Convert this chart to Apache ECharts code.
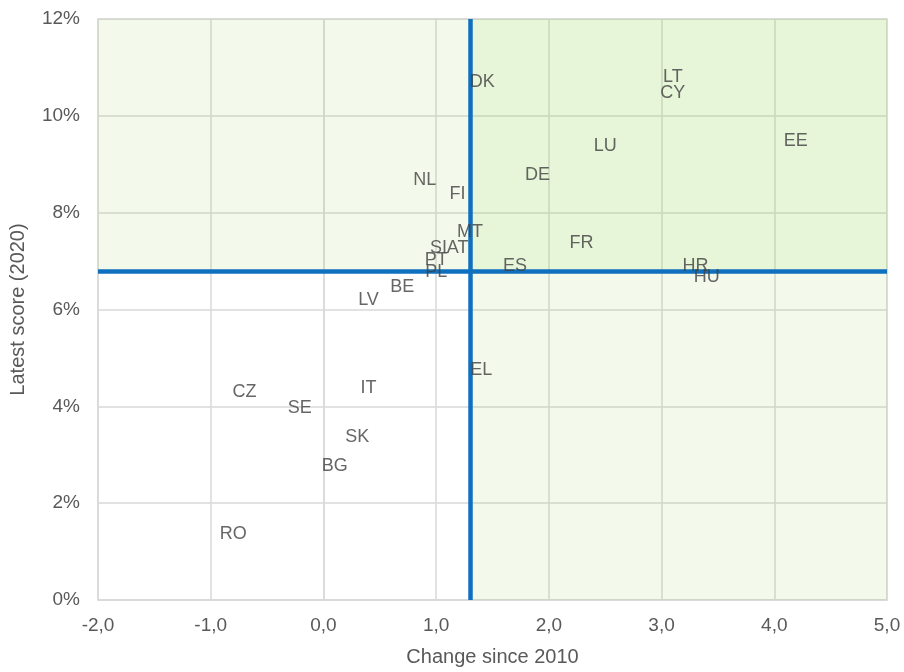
<!DOCTYPE html>
<html>
<head>
<meta charset="utf-8">
<script src="https://cdn.jsdelivr.net/npm/echarts@6/dist/echarts.min.js"></script>
<style>html,body{margin:0;padding:0;background:#fff;}#c{width:904px;height:672px;}</style>
</head>
<body>
<div id="c"></div>
<script>
var countries = ['DK','LT','CY','EE','LU','DE','NL','FI','MT','SI','AT','PT','PL','ES','FR','HR','HU','BE','LV','EL','IT','CZ','SE','SK','BG','RO'];
var changeSince2010 = [1.41,3.10,3.10,4.19,2.50,1.90,0.90,1.19,1.30,1.02,1.19,1.00,1.00,1.70,2.29,3.30,3.40,0.70,0.40,1.40,0.40,-0.70,-0.21,0.30,0.10,-0.80];
var latestScore2020 = [10.69,10.81,10.48,9.48,9.37,8.78,8.68,8.39,7.59,7.26,7.26,7.02,6.77,6.89,7.38,6.89,6.67,6.46,6.19,4.76,4.37,4.29,3.96,3.36,2.77,1.37];
var xTicks = {min:-2, max:5, interval:1};
var yTicks = {min:0, max:12, interval:2};
var thresholdX = 1.3;
var thresholdY = 6.8;

var pts = countries.map(function(c,i){ return [changeSince2010[i], latestScore2020[i], c]; });
var font = 'Liberation Sans, Arial, sans-serif';
var chart = echarts.init(document.getElementById('c'));
chart.setOption({
  animation:false,
  grid:{left:98,right:17,top:19,bottom:68,show:true,borderColor:'#d9d9d9',borderWidth:1.5,backgroundColor:'transparent'},
  xAxis:{type:'value',min:xTicks.min,max:xTicks.max,interval:xTicks.interval,
    name:'Change since 2010',nameLocation:'middle',nameGap:47,
    nameTextStyle:{color:'#595959',fontSize:20,fontFamily:font},
    axisLine:{show:true,lineStyle:{color:'#d9d9d9',width:1.5}},axisTick:{show:false},
    axisLabel:{color:'#595959',fontSize:19,fontFamily:font,margin:16,formatter:function(v){return v.toFixed(1).replace('.',',');}},
    splitLine:{show:true,lineStyle:{color:'#d9d9d9',width:1.5}}},
  yAxis:{type:'value',min:yTicks.min,max:yTicks.max,interval:yTicks.interval,
    name:'Latest score (2020)',nameLocation:'middle',nameGap:70,nameRotate:90,
    nameTextStyle:{color:'#595959',fontSize:20,fontFamily:font},
    axisLine:{show:true,lineStyle:{color:'#d9d9d9',width:1.5}},axisTick:{show:false},
    axisLabel:{color:'#595959',fontSize:19,fontFamily:font,margin:18,formatter:'{value}%'},
    splitLine:{show:true,lineStyle:{color:'#d9d9d9',width:1.5}}},
  series:[
    {type:'scatter',data:[],z:1,silent:true,
      markArea:{silent:true,data:[
        [{coord:[xTicks.min,thresholdY],itemStyle:{color:'rgba(146,208,80,0.11)'}},{coord:[thresholdX,yTicks.max]}],
        [{coord:[thresholdX,thresholdY],itemStyle:{color:'rgba(146,208,80,0.22)'}},{coord:[xTicks.max,yTicks.max]}],
        [{coord:[thresholdX,yTicks.min],itemStyle:{color:'rgba(146,208,80,0.11)'}},{coord:[xTicks.max,thresholdY]}]
      ]},
      markLine:{silent:true,symbol:['none','none'],label:{show:false},
        lineStyle:{color:'#0f70bf',width:4.5,type:'solid'},
        data:[{xAxis:thresholdX},{yAxis:thresholdY}]}
    },
    {type:'scatter',data:pts,z:5,symbolSize:1,itemStyle:{color:'rgba(0,0,0,0)'},
      label:{show:true,position:'inside',formatter:function(p){return p.data[2];},
        color:'#404040',fontSize:18,fontFamily:font}}
  ]
});
</script>
</body>
</html>
